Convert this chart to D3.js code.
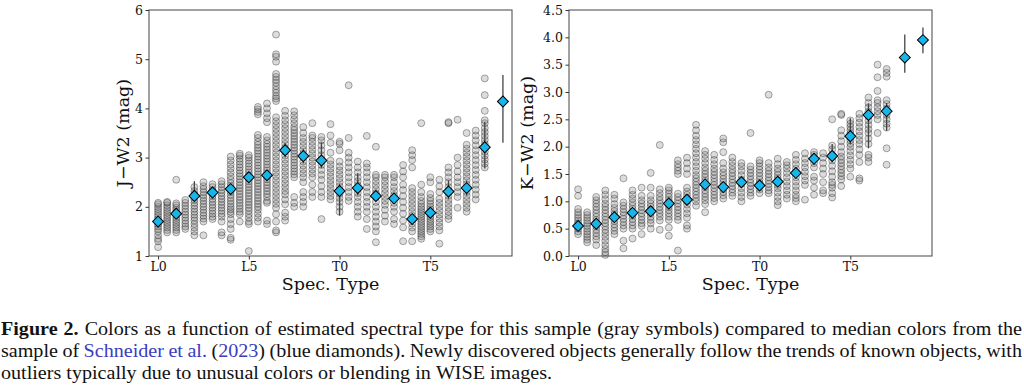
<!DOCTYPE html>
<html><head><meta charset="utf-8">
<script src="https://cdn.jsdelivr.net/npm/d3@7"></script>
<style>body{margin:0;background:#fff}svg{display:block}</style>
</head><body>
<svg id="chart" width="1024" height="385"></svg>
<script>
// ---------------- DATA ----------------
const medianTypes = [0,1,2,3,4,5,6,7,8,9,10,11,12,13,14,15,16,17,18,19];
const xTickValues = [0,5,10,15];
const xTickLabels = ["L0","L5","T0","T5"];
const jw2Ticks = [1,2,3,4,5,6];
const kw2Ticks = [0,0.5,1,1.5,2,2.5,3,3.5,4,4.5];

const jw2Median = [1.70,1.86,2.22,2.29,2.36,2.60,2.64,3.15,3.03,2.94,2.32,2.38,2.22,2.17,1.75,1.88,2.31,2.38,3.21,4.14];
const jw2ErrHi  = [0.08,0.08,0.30,0.10,0.10,0.10,0.10,0.15,0.15,0.37,0.15,0.30,0.10,0.10,0.10,0.10,0.23,0.15,0.52,0.54];
const jw2ErrLo  = [0.08,0.08,0.10,0.10,0.10,0.10,0.10,0.15,0.15,0.15,0.50,0.15,0.10,0.10,0.10,0.10,0.15,0.15,0.43,0.84];

const kw2Median = [0.55,0.59,0.71,0.79,0.82,0.96,1.03,1.31,1.26,1.35,1.29,1.36,1.52,1.78,1.83,2.19,2.58,2.65,3.63,3.95];
const kw2ErrHi  = [0.05,0.05,0.08,0.08,0.08,0.08,0.08,0.10,0.10,0.10,0.10,0.10,0.10,0.10,0.22,0.33,0.21,0.15,0.42,0.23];
const kw2ErrLo  = [0.05,0.05,0.08,0.08,0.08,0.08,0.08,0.10,0.10,0.10,0.10,0.10,0.10,0.10,0.10,0.15,0.61,0.36,0.28,0.24];

// sample points: [spectral type, [colour values]]
const jw2Sample = [
 [0,[1.18,1.3,1.35,1.42,1.5,1.55,1.6,1.65,1.7,1.75,1.8,1.85,1.9,1.95,2.0,2.05,2.08]],
 [0.5,[1.48,1.53,1.58,1.63,1.68,1.73,1.78,1.83,1.88,1.93,1.98,2.03,2.08,2.1]],
 [1,[1.48,1.53,1.58,1.63,1.68,1.73,1.78,1.83,1.88,1.93,1.98,2.03,2.07,2.55]],
 [1.5,[1.55,1.6,1.66,1.72,1.78,1.84,1.9,1.96,2.02,2.08,2.14]],
 [2,[1.42,1.5,1.58,1.65,1.72,1.78,1.84,1.9,1.96,2.02,2.08,2.14,2.2,2.26,2.32,2.4]],
 [2.5,[1.42,1.7,1.76,1.82,1.88,1.94,2.0,2.06,2.12,2.18,2.24,2.3,2.36,2.42,2.5]],
 [3,[1.75,1.8,1.86,1.92,1.98,2.04,2.1,2.16,2.22,2.28,2.34,2.4,2.46]],
 [3.5,[1.42,1.48,1.7,1.8,1.86,1.92,1.98,2.04,2.1,2.16,2.22,2.28,2.34,2.4,2.46,2.52]],
 [4,[1.33,1.37,1.55,1.65,1.75,1.85,1.9,1.95,2.0,2.06,2.12,2.18,2.24,2.3,2.36,2.42,2.48,2.55,2.62,2.7,2.78,2.86,2.94,3.02]],
 [4.5,[1.7,1.85,1.9,1.96,2.02,2.08,2.14,2.2,2.26,2.32,2.38,2.44,2.5,2.56,2.62,2.68,2.74,2.8,2.86,2.92,2.98,3.04,3.08]],
 [5,[1.1,1.65,1.7,1.78,1.85,1.92,1.98,2.04,2.1,2.16,2.22,2.28,2.34,2.4,2.46,2.52,2.58,2.64,2.7,2.76,2.82,2.88,2.94,3.0,3.05]],
 [5.5,[1.7,1.78,1.86,1.94,2.0,2.06,2.12,2.18,2.24,2.3,2.36,2.42,2.48,2.54,2.6,2.66,2.72,2.78,2.84,2.9,2.96,3.02,3.08,3.14,3.2,3.26,3.32,3.4,3.46,3.88,3.93,3.98,4.03]],
 [6,[1.65,1.72,2.08,2.12,2.2,2.26,2.32,2.38,2.44,2.5,2.56,2.62,2.68,2.74,2.8,2.86,2.92,2.98,3.04,3.1,3.16,3.22,3.28,3.35,3.42,3.72,3.8,3.9,4.0,4.1]],
 [6.5,[1.48,1.52,1.7,1.85,1.98,2.06,2.14,2.22,2.3,2.38,2.46,2.54,2.62,2.7,2.78,2.86,2.94,3.02,3.1,3.18,3.26,3.34,3.42,3.5,3.58,3.66,3.74,3.82,4.15,4.2,4.25,4.32,4.38,4.45,4.52,4.58,4.64,4.7,4.95,5.05,5.1,5.5]],
 [7,[1.72,1.8,1.88,2.05,2.15,2.25,2.32,2.4,2.48,2.56,2.64,2.72,2.8,2.88,2.96,3.04,3.12,3.2,3.28,3.36,3.44,3.52,3.6,3.68,3.76,3.85,3.95]],
 [7.5,[2.0,2.08,2.2,2.6,2.66,2.72,2.78,2.84,2.9,2.96,3.02,3.08,3.14,3.2,3.26,3.32,3.38,3.44,3.5,3.56,3.62,3.7,3.78,3.86,3.94]],
 [8,[2.0,2.1,2.2,2.3,2.5,2.6,2.68,2.76,2.84,2.92,3.0,3.08,3.16,3.24,3.32,3.4,3.5,3.62]],
 [8.5,[2.2,2.3,2.45,2.6,2.68,2.76,2.84,2.92,3.0,3.08,3.16,3.24,3.32,3.4,3.45,3.7]],
 [9,[1.75,2.2,2.3,2.42,2.55,2.65,2.75,2.85,2.95,3.05,3.15,3.25,3.35,3.42]],
 [9.5,[2.15,2.22,2.3,2.38,2.46,2.54,2.62,2.7,2.78,2.86,2.94,3.1,3.3,3.45,3.68]],
 [10,[1.9,2.0,2.1,2.18,2.26,2.34,2.42,2.5,2.58,2.66,2.74,2.82,2.92,3.15,3.28,3.32]],
 [10.5,[2.12,2.2,2.3,2.4,2.5,2.6,2.7,2.8,2.9,3.0,3.1,3.4,4.47]],
 [11,[1.8,1.9,2.0,2.1,2.2,2.28,2.36,2.44,2.52,2.6,2.7,2.8,2.92]],
 [11.5,[1.55,1.75,1.9,2.0,2.1,2.2,2.3,2.4,2.5,2.6,2.7,2.8,2.88,3.44]],
 [12,[1.28,1.5,1.6,1.7,1.8,1.9,2.0,2.1,2.2,2.28,2.36,2.44,2.52,2.6,2.65,3.22]],
 [12.5,[1.7,1.82,1.94,2.04,2.12,2.2,2.28,2.36,2.44,2.52,2.6,2.65]],
 [13,[1.65,1.75,1.9,2.0,2.08,2.16,2.24,2.32,2.4,2.5,2.6,2.65]],
 [13.5,[1.3,1.58,1.72,1.86,1.98,2.1,2.22,2.34,2.45,2.6,2.72,2.85]],
 [14,[1.3,1.5,1.58,1.66,1.74,1.82,1.9,1.98,2.06,2.14,2.22,2.3,2.38,2.8,2.95,3.05,3.15]],
 [14.5,[1.35,1.4,1.45,1.5,1.55,1.6,1.65,1.7,1.75,1.8,1.85,1.9,1.95,2.0,2.06,2.12,2.2,2.3,2.45,3.7]],
 [15,[1.5,1.55,1.6,1.65,1.7,1.75,1.8,1.85,1.9,1.95,2.0,2.06,2.12,2.18,2.26,2.5,2.6]],
 [15.5,[1.25,1.52,1.6,1.68,1.76,1.84,1.92,2.0,2.08,2.16,2.3,2.42,2.55]],
 [16,[1.75,1.82,1.9,1.98,2.06,2.14,2.22,2.3,2.4,2.5,2.6,2.7,2.8,3.7,3.72]],
 [16.5,[1.98,2.2,2.3,2.4,2.5,2.6,2.72,2.85,3.0,3.77]],
 [17,[1.9,1.98,2.06,2.14,2.22,2.3,2.38,2.46,2.54,2.62,2.7,2.78,2.86,2.94,3.02,3.1,3.18,3.26,3.5]],
 [17.5,[2.15,2.25,2.35,2.45,2.55,2.65,2.75,2.85,2.95,3.05,3.15,3.25,3.35,3.45,3.55]],
 [18,[2.8,2.88,2.96,3.04,3.12,3.2,3.28,3.36,3.44,3.52,3.6,3.7,3.76,3.95,4.27,4.61]]
];

const kw2Sample = [
 [0,[0.4,0.45,0.5,0.55,0.6,0.65,0.7,0.75,0.8,0.86,1.1,1.22]],
 [0.5,[0.25,0.3,0.35,0.4,0.45,0.5,0.55,0.6,0.65,0.7,0.75,0.8]],
 [1,[0.2,0.3,0.36,0.42,0.48,0.54,0.6,0.66,0.72,0.78,0.84,0.9,0.96,1.02,1.08]],
 [1.5,[0.02,0.07,0.13,0.2,0.28,0.35,0.42,0.48,0.54,0.6,0.66,0.72,0.78,0.84,0.9,0.96,1.04,1.12,1.2]],
 [2,[0.4,0.46,0.52,0.58,0.64,0.7,0.76,0.82,0.88,0.95,1.05,1.12]],
 [2.5,[0.14,0.28,0.5,0.56,0.62,0.68,0.74,0.8,0.86,0.92,0.98,1.42]],
 [3,[0.32,0.5,0.56,0.62,0.68,0.74,0.8,0.86,0.92,0.98,1.05,1.12,1.2]],
 [3.5,[0.4,0.55,0.6,0.66,0.72,0.78,0.84,0.9,0.96,1.02,1.1,1.25]],
 [4,[0.5,0.6,0.66,0.72,0.78,0.84,0.9,0.96,1.02,1.1,1.25,1.52]],
 [4.5,[0.48,0.65,0.72,0.78,0.84,0.9,0.96,1.02,1.08,1.15,1.22,2.03]],
 [5,[0.37,0.52,0.66,0.72,0.78,0.84,0.9,0.96,1.02,1.08,1.14,1.2,1.25]],
 [5.5,[0.1,0.66,0.72,0.78,0.84,0.9,0.96,1.02,1.08,1.14,1.5,1.56,1.62,1.68,1.75]],
 [6,[0.5,0.56,0.7,0.78,0.86,0.94,1.0,1.06,1.12,1.18,1.25,1.5,1.6,1.7,1.8]],
 [6.5,[0.92,1.0,1.06,1.12,1.18,1.24,1.3,1.36,1.42,1.48,1.56,1.64,1.72,1.8,1.88,1.96,2.04,2.12,2.2,2.3,2.4]],
 [7,[0.8,0.95,1.02,1.08,1.14,1.2,1.26,1.32,1.38,1.44,1.5,1.56,1.62,1.7,1.78,1.85,1.92]],
 [7.5,[1.0,1.06,1.12,1.18,1.24,1.3,1.36,1.42,1.48,1.54,1.6,1.68,1.76,1.85]],
 [8,[1.05,1.11,1.17,1.23,1.29,1.35,1.41,1.47,1.53,1.6,1.7,1.9,2.08,2.15]],
 [8.5,[1.1,1.16,1.22,1.28,1.34,1.4,1.46,1.52,1.58,1.65,1.72,1.8]],
 [9,[1.0,1.08,1.16,1.24,1.32,1.4,1.48,1.56,1.64,1.7]],
 [9.5,[1.1,1.16,1.22,1.28,1.34,1.4,1.46,1.52,1.58,1.64,2.25]],
 [10,[1.15,1.22,1.28,1.34,1.4,1.46,1.52,1.58,1.64,1.7,1.75]],
 [10.5,[1.15,1.2,1.26,1.32,1.38,1.44,1.5,1.56,1.62,1.7,2.95]],
 [11,[0.93,1.0,1.08,1.16,1.24,1.3,1.36,1.42,1.48,1.54,1.6,1.68,1.78]],
 [11.5,[1.05,1.12,1.2,1.28,1.36,1.44,1.52,1.6,1.66,1.72]],
 [12,[1.0,1.06,1.12,1.2,1.28,1.36,1.44,1.52,1.6,1.68,1.76,1.85]],
 [12.5,[1.03,1.3,1.38,1.46,1.54,1.62,1.7,1.78,1.88]],
 [13,[1.12,1.25,1.38,1.45,1.62,1.7,1.78,1.85,1.9]],
 [13.5,[1.15,1.2,1.35,1.5,1.6,1.7,1.8,1.88]],
 [14,[1.07,1.15,1.25,1.3,1.35,1.45,1.55,1.65,1.75,1.85,1.95,2.02,2.5]],
 [14.5,[1.28,1.4,1.46,1.52,1.58,1.64,1.7,1.76,1.82,1.9,2.0,2.1,2.2,2.3,2.58,2.6]],
 [15,[1.45,1.6,1.68,1.76,1.84,1.92,2.0,2.06,2.12,2.18,2.24,2.3,2.36,2.42,2.48]],
 [15.5,[1.38,1.42,1.72,1.85,1.95,2.05,2.12,2.2,2.28,2.36,2.44,2.52,2.6]],
 [16,[1.72,1.8,1.85,2.05,2.15,2.25,2.32,2.4,2.48,2.56,2.64,2.72,2.8,2.9]],
 [16.5,[2.25,2.5,2.58,2.65,2.72,2.8,2.85,3.02,3.27,3.5]],
 [17,[1.67,1.97,2.35,2.42,2.5,2.58,2.7,2.78,2.85,3.28,3.35,3.42]]
];

const captionLines = [
 [{t:"Figure 2.",b:true},{t:" Colors as a function of estimated spectral type for this sample (gray symbols) compared to median colors from the"}],
 [{t:"sample of "},{t:"Schneider et al.",c:"link"},{t:" ("},{t:"2023",c:"link"},{t:") (blue diamonds). Newly discovered objects generally follow the trends of known objects, with"}],
 [{t:"outliers typically due to unusual colors or blending in WISE images."}]
];

// ---------------- DRAW ----------------
const svg = d3.select("#chart");
const serif = "'DejaVu Serif', serif";

function drawPanel(o) {
  const x = d3.scaleLinear().domain([-0.5, 19.5]).range([o.left, o.left + 363]);
  const y = d3.scaleLinear().domain(o.yDomain).range([256, 10]);
  const g = svg.append("g");

  const pts = [];
  o.sample.forEach(([t, vals]) => vals.forEach(v => pts.push([t, v])));
  g.append("g").selectAll("circle").data(pts).join("circle")
    .attr("cx", d => x(d[0])).attr("cy", d => y(d[1])).attr("r", 3.5)
    .attr("fill", "rgba(128,128,128,0.28)")
    .attr("stroke", "rgba(0,0,0,0.4)").attr("stroke-width", 0.8);

  g.append("g").selectAll("line").data(medianTypes).join("line")
    .attr("x1", (d) => x(d)).attr("x2", (d) => x(d))
    .attr("y1", (d, i) => y(o.med[i] - o.lo[i]))
    .attr("y2", (d, i) => y(o.med[i] + o.hi[i]))
    .attr("stroke", "#444").attr("stroke-width", 1.3);

  const sym = d3.symbol().type(d3.symbolSquare).size(60);
  g.append("g").selectAll("path").data(medianTypes).join("path")
    .attr("d", sym)
    .attr("transform", (d, i) => `translate(${x(d)},${y(o.med[i])}) rotate(45)`)
    .attr("fill", "#16b6ec").attr("stroke", "#000").attr("stroke-width", 1);

  const xa = g.append("g").attr("transform", "translate(0,256)")
    .call(d3.axisBottom(x).tickValues(xTickValues)
      .tickFormat((d, i) => xTickLabels[i]).tickSize(3.5).tickPadding(2.5));
  const ya = g.append("g").attr("transform", `translate(${o.left},0)`)
    .call(d3.axisLeft(y).tickValues(o.yTicks).tickFormat(o.fmt).tickSize(3.5).tickPadding(2.5));
  [xa, ya].forEach(a => {
    a.select(".domain").remove();
    a.selectAll("line").attr("stroke", "#333");
    a.selectAll("text").attr("font-family", serif).attr("font-size", 12.5).attr("fill", "#111");
  });

  g.append("rect").attr("x", o.left).attr("y", 10).attr("width", 363).attr("height", 246)
    .attr("fill", "none").attr("stroke", "#444").attr("stroke-width", 1);

  g.append("text").attr("x", o.left + 181.5).attr("y", 290).attr("text-anchor", "middle")
    .attr("font-family", serif).attr("font-size", 17.5).attr("fill", "#111").text("Spec. Type");
  g.append("text").attr("transform", `translate(${o.labelX},133) rotate(-90)`)
    .attr("text-anchor", "middle").attr("font-family", serif).attr("font-size", 17.5)
    .attr("fill", "#111").text(o.label);
}

drawPanel({left: 149, yDomain: [1, 6], yTicks: jw2Ticks, fmt: d3.format("d"),
  sample: jw2Sample, med: jw2Median, hi: jw2ErrHi, lo: jw2ErrLo, label: "J\u2212W2 (mag)", labelX: 129});
drawPanel({left: 569, yDomain: [0, 4.5], yTicks: kw2Ticks, fmt: d3.format(".1f"),
  sample: kw2Sample, med: kw2Median, hi: kw2ErrHi, lo: kw2ErrLo, label: "K\u2212W2 (mag)", labelX: 533});

// caption (justified, horizontally stretched to mimic the LaTeX font width)
const capFont = "'Liberation Serif', 'Times New Roman', serif";
const capSize = 18.6;
const baselines = [335, 357, 379];
const capG = svg.append("g");
const inner = capG.append("g");
function wordsOf(line) {
  const words = [];
  let cur = [];
  line.forEach(p => {
    p.t.split(" ").forEach((s, k) => {
      if (k > 0) { if (cur.length) words.push(cur); cur = []; }
      if (s.length) cur.push({t: s, b: p.b, c: p.c});
    });
  });
  if (cur.length) words.push(cur);
  return words;
}
function renderWord(w, yPos) {
  const t = inner.append("text").attr("x", 0).attr("y", yPos)
    .attr("font-family", capFont).attr("font-size", capSize).attr("fill", "#111");
  w.forEach(p => t.append("tspan").text(p.t)
    .attr("font-weight", p.b ? "bold" : "normal")
    .attr("fill", p.c === "link" ? "#3b3bbf" : "#111"));
  return t;
}
const space = capSize * 0.25;
const laid = captionLines.map((line, li) => {
  const words = wordsOf(line);
  const nodes = words.map(w => renderWord(w, baselines[li]));
  const widths = nodes.map(n => n.node().getComputedTextLength());
  return {nodes, widths};
});
// stretch so the last (unjustified) line spans like the reference
const last = laid[laid.length - 1];
const lastW = d3.sum(last.widths) + space * (last.widths.length - 1);
const sx = 551 / lastW;
inner.attr("transform", `translate(1,0) scale(${sx},1)`);
laid.forEach((L, li) => {
  const justify = li < laid.length - 1;
  const total = d3.sum(L.widths);
  const gap = justify ? (1021 / sx - total) / (L.widths.length - 1) : space;
  let xp = 0;
  L.nodes.forEach((n, i) => { n.attr("x", xp); xp += L.widths[i] + gap; });
});
</script>
</body></html>
